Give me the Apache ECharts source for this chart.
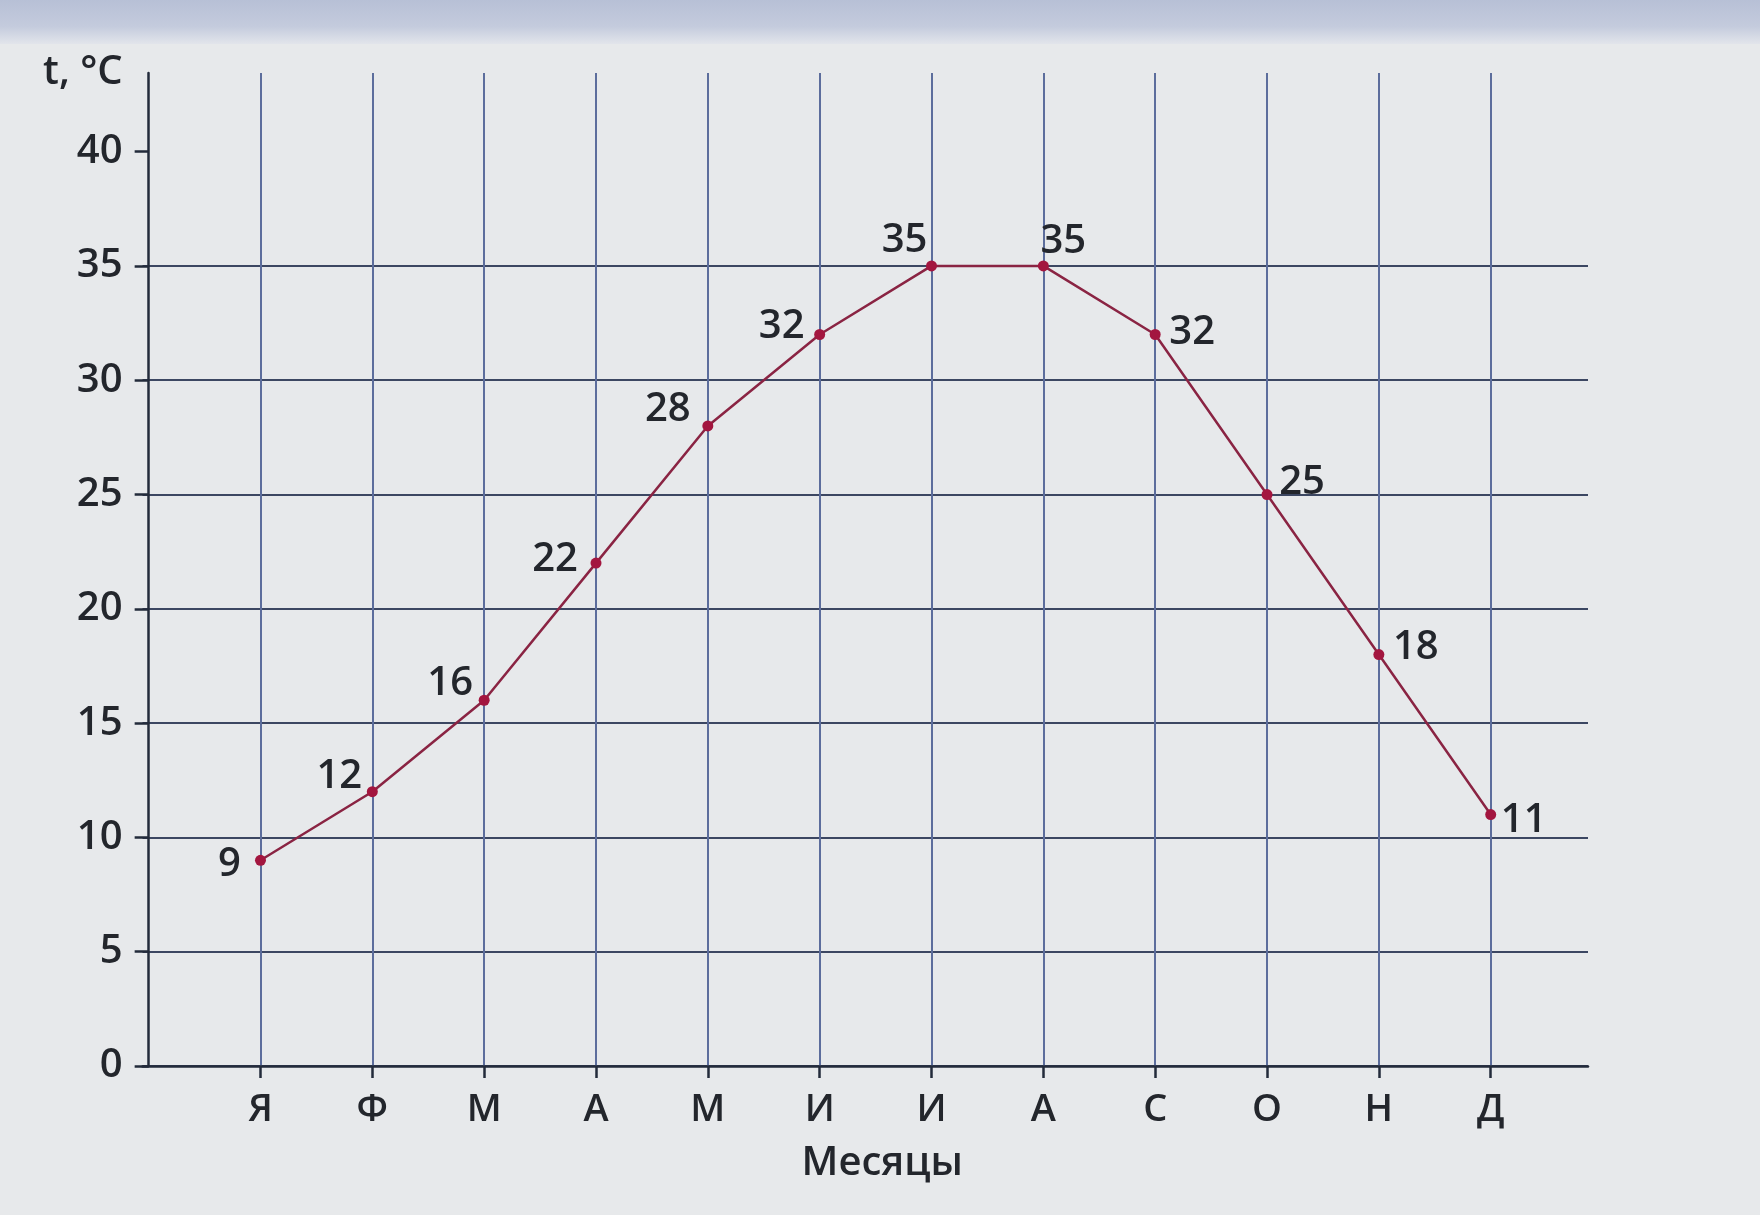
<!DOCTYPE html>
<html>
<head>
<meta charset="utf-8">
<script src="https://cdn.jsdelivr.net/npm/echarts@6/dist/echarts.min.js"></script>
<style>
  html, body { margin: 0; padding: 0; background: #e7e9eb; }
  #chart { width: 1760px; height: 1215px; }
</style>
</head>
<body>
<div id="chart"></div>
<script>
// Среднемесячная температура воздуха
const months = ['Я', 'Ф', 'М', 'А', 'М', 'И', 'И', 'А', 'С', 'О', 'Н', 'Д'];
const temps = [9, 12, 16, 22, 28, 32, 35, 35, 32, 25, 18, 11];
const yTicks = [0, 5, 10, 15, 20, 25, 30, 35, 40];
const monthPos = months.map((m, i) => i + 1);

// label offsets around each point (rising part left, falling part right)
const labelShift = [
  [-31, 4], [-33, -15], [-34, -17], [-41, -3], [-40, -16], [-38, -8],
  [-27, -25], [20, -24], [37, -2], [35, -12], [37, -7], [33, 6]
];

const font = '"Open Sans", "Noto Sans", sans-serif';
const textColor = '#23262c';
const axisDark = '#232b3b';
const gridDark = '#3c4762';
const gridBlue = '#5c6d9c';

const chart = echarts.init(document.getElementById('chart'), null, { renderer: 'canvas' });

chart.setOption({
  backgroundColor: '#e7e9eb',
  animation: false,
  graphic: [{
    type: 'rect',
    left: 0, top: 0,
    shape: { width: 1760, height: 44 },
    style: {
      fill: new echarts.graphic.LinearGradient(0, 0, 0, 1, [
        { offset: 0, color: '#b7c0d6' },
        { offset: 0.6, color: '#c4cbdd' },
        { offset: 1, color: '#e2e5eb' }
      ])
    },
    z: -10
  }],
  grid: { left: 142.5, right: 172, top: 73, bottom: 149, containLabel: false },
  xAxis: {
    type: 'value',
    min: -0.055,
    max: 12.87,
    name: 'Месяцы',
    nameLocation: 'middle',
    nameGap: 78,
    nameTextStyle: { fontFamily: font, fontSize: 40, fontWeight: 600, color: textColor, padding: [0, 0, 0, 34] },
    axisLine: { show: true, onZero: false, lineStyle: { color: axisDark, width: 2.5 } },
    axisTick: { show: true, customValues: monthPos, length: 12, lineStyle: { color: axisDark, width: 2.5 } },
    axisLabel: {
      customValues: monthPos,
      margin: 25,
      fontFamily: font, fontSize: 38, fontWeight: 600, color: textColor,
      formatter: v => months[Math.round(v) - 1] || ''
    },
    splitLine: { show: true, lineStyle: { color: gridBlue, width: 2 } }
  },
  yAxis: {
    type: 'value',
    min: 0,
    max: 43.44,
    interval: 5,
    name: 't, °C',
    nameLocation: 'end',
    nameGap: 0,
    nameTextStyle: { fontFamily: font, fontSize: 40, fontWeight: 600, color: textColor, align: 'right', verticalAlign: 'middle', padding: [0, 26, 0, 0] },
    axisLine: { show: true, lineStyle: { color: axisDark, width: 2.5 } },
    axisTick: { show: true, customValues: yTicks, length: 14, lineStyle: { color: axisDark, width: 2.5 } },
    axisLabel: { customValues: yTicks, margin: 20, fontFamily: font, fontSize: 40, fontWeight: 600, color: textColor },
    splitLine: { show: true, showMaxLine: false, lineStyle: { color: gridDark, width: 2 } }
  },
  series: [{
    type: 'line',
    data: temps.map((t, i) => ({
      value: [i + 1, t],
      label: { offset: labelShift[i] }
    })),
    symbol: 'circle',
    symbolSize: 11,
    lineStyle: { color: '#8a2443', width: 2.5 },
    itemStyle: { color: '#a3163f' },
    label: {
      show: true,
      position: 'inside',
      align: 'center',
      verticalAlign: 'middle',
      fontFamily: font,
      fontSize: 40,
      fontWeight: 600,
      color: textColor,
      formatter: p => String(p.value[1])
    },
    z: 5
  }]
});
</script>
</body>
</html>
